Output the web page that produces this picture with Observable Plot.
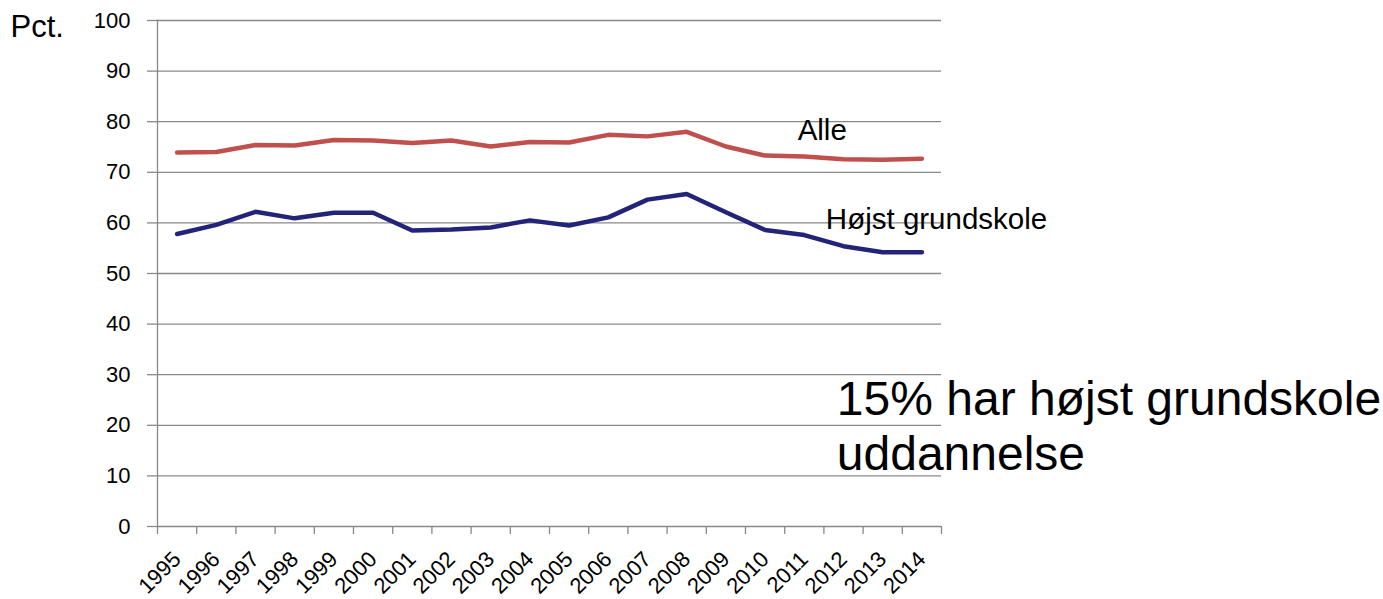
<!DOCTYPE html>
<html><head><meta charset="utf-8">
<script src="https://cdn.jsdelivr.net/npm/d3@7"></script>
<script src="https://cdn.jsdelivr.net/npm/@observablehq/plot@0.6"></script>
<style>body{margin:0;background:#fff}</style>
</head><body><div id="chart"></div>
<script>
const years = [1995,1996,1997,1998,1999,2000,2001,2002,2003,2004,2005,2006,2007,2008,2009,2010,2011,2012,2013,2014];
const alle  = [73.9,74.0,75.4,75.3,76.4,76.3,75.8,76.3,75.1,76.0,75.9,77.4,77.1,78.0,75.1,73.3,73.1,72.6,72.5,72.7];
const hojst = [57.8,59.6,62.2,60.9,62.0,62.0,58.5,58.7,59.1,60.5,59.5,61.1,64.6,65.7,62.1,58.6,57.6,55.4,54.2,54.2];
const seriesNames = ["Alle", "Højst grundskole"];
const seriesColors = ["#C0504D", "#23237A"];
const yTicks = [0,10,20,30,40,50,60,70,80,90,100];
const yLabel = "Pct.";
const note = "15% har højst grundskole\nuddannelse";

const data = years.flatMap((yr, i) => [
  {year: yr, value: alle[i], series: seriesNames[0]},
  {year: yr, value: hojst[i], series: seriesNames[1]}
]);
const bounds = years.map(y => y - 0.5).concat([years[years.length - 1] + 0.5]);
const grey = "#898989";

const plot = Plot.plot({
  width: 1383, height: 599,
  marginLeft: 157, marginRight: 442, marginTop: 20, marginBottom: 73,
  style: {fontFamily: "'Liberation Sans', Arial, sans-serif", fontSize: "22px", color: "#000", background: "#fff"},
  x: {type: "linear", domain: [bounds[0], bounds[bounds.length - 1]]},
  y: {domain: [0, 100]},
  color: {domain: seriesNames, range: seriesColors},
  marks: [
    Plot.gridY(yTicks, {stroke: grey, strokeOpacity: 1, strokeWidth: 1.3}),
    Plot.axisY(yTicks, {tickSize: 10, tickPadding: 17, stroke: grey, strokeWidth: 1.3, strokeOpacity: 1, label: null, fontSize: 22}),
    Plot.frame({anchor: "left", stroke: grey, strokeWidth: 1.3}),
    Plot.axisX(bounds, {tickSize: 8, tickFormat: () => "", stroke: grey, strokeWidth: 1.3, strokeOpacity: 1, label: null}),
    Plot.axisX(years, {tickSize: 0, tickRotate: -45, tickPadding: 29, tickFormat: d => String(d), label: null, fontSize: 22}),
    Plot.line(data, {x: "year", y: "value", z: "series", stroke: "series", strokeWidth: 4.5, strokeLinejoin: "round", strokeLinecap: "round"}),
    Plot.text([seriesNames[0]], {x: 2010.83, y: 76.3, text: d => d, textAnchor: "start", lineAnchor: "bottom", fontSize: 29.5}),
    Plot.text([seriesNames[1]], {x: 2011.55, y: 58.7, text: d => d, textAnchor: "start", lineAnchor: "bottom", fontSize: 29.5}),
    Plot.text([note], {x: 2011.83, y: 11.07, text: d => d, textAnchor: "start", lineAnchor: "bottom", lineHeight: 1.15, fontSize: 48}),
    Plot.text([yLabel], {frameAnchor: "top-left", dx: -147, dy: 16, text: d => d, textAnchor: "start", lineAnchor: "bottom", fontSize: 31})
  ]
});
document.getElementById("chart").appendChild(plot);
</script>
</body></html>
